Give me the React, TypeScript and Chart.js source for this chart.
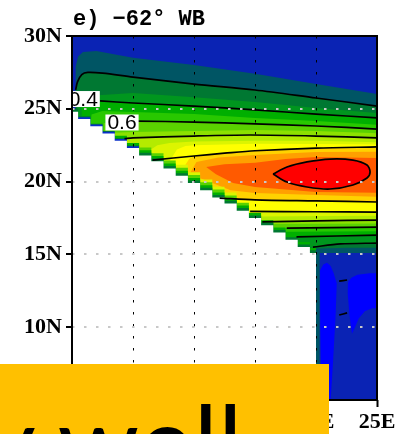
import React, { useEffect, useRef } from 'react';
import { Chart, registerables } from 'chart.js';

Chart.register(...registerables);

type Pt = [number, number];

// ---------- axes ----------
const lonRange = [0, 25];
const latRange = [5, 30];
const tickStep = 5;
const titleText = 'e) \u221262\u00b0 WB';

// ---------- coastline (land mask, stepped treads) ----------
const coastLon = [0, 0.5, 1.5, 2.5, 3.5, 4.5, 5.5, 6.5, 7.5, 8.5, 9.5, 10.5, 11.5, 12.5, 13.5, 14.5, 15.5, 16.5, 17.5, 18.5, 19.5];
const coastLat = [24.8, 24.3, 23.8, 23.3, 22.8, 22.3, 21.8, 21.4, 20.9, 20.4, 19.9, 19.4, 18.9, 18.5, 18.0, 17.5, 17.0, 16.5, 16.0, 15.5, 15.1];
const coastEndLon = 20;

// coastal fringe layers (offset above coast in degrees, lon range)
const fringeOffset = [0.75, 0.55, 0.35, 0.18, 0.12];
const fringeFrom = [8.5, 5.5, 3.5, 0, 0.5];
const fringeTo = [13.5, 14.5, 20, 20, 5.5];
const fringeColor = ['#DCF500', '#5AD200', '#00AF00', '#007832', '#0A30C8'];

// ---------- filled bands (lon, lat polygons), low -> high ----------
const frameBox: Pt[] = [[-1, 4], [26, 4], [26, 31], [-1, 31]];
const band1: Pt[] = [[0.3, 4.5], [0.3, 27.9], [0.5, 28.6], [0.9, 28.9], [2.0, 28.97], [5, 28.5], [10, 28.0], [15, 27.4], [20, 26.7], [25.5, 25.95], [25.5, 15.1], [20.3, 15.1], [20.3, 4.5]];
const band2: Pt[] = [[0.3, 15.4], [0.3, 26.2], [0.45, 26.85], [0.8, 27.35], [1.3, 27.5], [2.5, 27.45], [5, 27.18], [10, 26.7], [15, 26.29], [20, 25.74], [25.5, 25.15], [25.5, 15.45], [22.5, 15.45], [20.3, 15.4]];
const band3: Pt[] = [[0.4, 15.5], [0.4, 24.5], [0.5, 25.5], [1.5, 25.9], [5, 26.08], [10, 25.8], [15, 25.47], [20, 25.05], [25.5, 24.68], [25.5, 15.78], [22, 15.72], [19.75, 15.5]];
const band4: Pt[] = [[0.8, 16.2], [0.8, 25.4], [1.5, 25.6], [2.3, 25.54], [5, 25.4], [10, 25.19], [15, 24.92], [20, 24.64], [25.5, 24.34], [25.5, 16.33], [18.4, 16.2]];
const band5: Pt[] = [[1.5, 16.55], [1.5, 23.7], [1.6, 24.6], [2.5, 24.85], [5, 24.78], [10, 24.64], [15, 24.37], [20, 24.16], [25.5, 23.87], [25.5, 16.6], [18, 16.55]];
const band6: Pt[] = [[2.6, 16.81], [2.6, 23.2], [2.6, 24.0], [3.5, 24.18], [5.3, 24.16], [10, 24.09], [15, 23.96], [20, 23.82], [25.5, 23.59], [25.5, 16.88], [17.6, 16.81]];
const band7: Pt[] = [[3.3, 17.08], [3.3, 22.7], [3.4, 23.35], [5, 23.4], [10, 23.47], [15, 23.54], [20, 23.47], [25.5, 23.31], [25.5, 17.12], [16.5, 17.08]];
const band8: Pt[] = [[4.2, 17.23], [4.2, 22.3], [4.3, 22.95], [5, 23.0], [10, 23.13], [14.6, 23.2], [20, 23.13], [25.5, 22.98], [25.5, 17.36], [15.6, 17.23]];
const band9: Pt[] = [[5.9, 17.6], [5.9, 21.5], [6.0, 21.95], [7, 22.5], [8, 22.65], [10, 22.75], [15, 22.8], [20, 22.8], [25.5, 22.7], [25.5, 17.65], [15, 17.6]];
const band10: Pt[] = [[7.9, 17.95], [7.9, 20.6], [8.0, 21.4], [8.6, 22.2], [9.3, 22.45], [10, 22.5], [15, 22.6], [20, 22.58], [25.5, 22.55], [25.5, 17.91], [20, 17.93], [14.6, 17.95]];
const band11: Pt[] = [[9.0, 18.87], [9.0, 20.2], [9.1, 20.9], [9.6, 21.55], [10, 21.76], [12.5, 21.95], [15, 22.12], [20, 22.3], [25.5, 22.4], [25.5, 18.6], [20, 18.67], [15, 18.74], [12.1, 18.87]];
const band12: Pt[] = [[9.7, 20.6], [10.2, 21.35], [12, 21.65], [15, 21.83], [20, 22.03], [25.5, 22.05], [25.5, 18.94], [20, 19.08], [15, 19.22], [13, 19.4], [11.5, 19.9], [10.3, 20.3]];
const band13: Pt[] = [[11.0, 21.0], [12.5, 21.2], [15, 21.3], [17.5, 21.55], [20, 21.69], [25.5, 21.62], [25.5, 19.22], [20, 19.29], [15, 19.63], [13.2, 19.9], [11.8, 20.5]];
const core: Pt[] = [[16.48, 20.52], [17.62, 21.0], [19.26, 21.35], [21.15, 21.55], [23.03, 21.48], [24.18, 21.14], [24.43, 20.66], [24.18, 20.25], [23.03, 19.77], [21.15, 19.49], [19.26, 19.63], [17.62, 19.97], [16.48, 20.52]];
const patch1: Pt[] = [[20.33, 13.9], [20.6, 14.3], [20.9, 14.42], [21.2, 14.2], [21.45, 13.7], [21.7, 13.0], [21.6, 10.7], [21.4, 7.7], [21.2, 5], [20.45, 5], [20.35, 10]];
const patch2: Pt[] = [[22.62, 13.1], [22.9, 13.4], [23.4, 13.6], [24.4, 13.7], [25.5, 13.72], [25.5, 11.35], [24.6, 11.3], [24.0, 11.1], [23.5, 10.6], [23.2, 10.0], [22.95, 9.55], [22.75, 10.8], [22.6, 12.3]];

const bandPolys = [frameBox, band1, band2, band3, band4, band5, band6, band7, band8, band9, band10, band11, band12, band13, core, patch1, patch2];
const bandColors = ['#0A23B4', '#005564', '#007832', '#00961E', '#00AF00', '#28C800', '#5AD200', '#8CE100', '#B4EB00', '#DCF500', '#FFFF00', '#FFD200', '#FFA000', '#FF5A00', '#FF0000', '#0000FF', '#0000FF'];

// ---------- contour lines ----------
const lineA: Pt[] = [[0.3, 26.3], [0.45, 26.85], [0.8, 27.35], [1.3, 27.5], [2.5, 27.45], [5, 27.18], [10, 26.7], [15, 26.29], [20, 25.74], [25, 25.19]];
const lineB: Pt[] = [[2.3, 25.54], [5, 25.4], [10, 25.19], [15, 24.92], [20, 24.64], [25, 24.37]];
const lineC: Pt[] = [[5.3, 24.16], [10, 24.09], [15, 23.96], [20, 23.82], [25, 23.61]];
const lineD: Pt[] = [[4.3, 22.95], [5, 23.0], [10, 23.13], [14.6, 23.2], [20, 23.13], [25, 23.0]];
const lineE: Pt[] = [[6.6, 21.48], [10, 21.76], [12.5, 21.95], [15, 22.12], [20, 22.3], [25, 22.38]];
const lineF: Pt[] = [[12.1, 18.87], [15, 18.74], [20, 18.67], [25, 18.6]];
const lineG: Pt[] = [[14.6, 17.95], [20, 17.93], [25, 17.91]];
const lineH: Pt[] = [[15.6, 17.23], [20, 17.3], [25, 17.36]];
const lineI: Pt[] = [[17.6, 16.81], [25, 16.88]];
const lineJ: Pt[] = [[18.4, 16.2], [25, 16.33]];
const lineK: Pt[] = [[19.75, 15.5], [22, 15.72], [25, 15.78]];
const dash1: Pt[] = [[21.9, 13.17], [22.55, 13.24]];
const dash2: Pt[] = [[21.9, 10.84], [22.55, 10.98]];
const contourLines = [lineA, lineB, lineC, lineD, lineE, lineF, lineG, lineH, lineI, lineJ, lineK, core, dash1, dash2];

// ---------- contour labels ----------
const labelText = ['0.4', '0.6'];
const labelLon = [0.92, 4.1];
const labelLat = [25.67, 24.06];

const toXY = (pts: Pt[]) => pts.map(([x, y]) => ({ x, y }));

function buildDatasets() {
  const ds: any[] = [];
  bandPolys.forEach((p, i) => {
    ds.push({
      data: toXY(p), showLine: true, fill: 'shape', tension: 0,
      backgroundColor: bandColors[i], borderColor: bandColors[i], borderWidth: 0, pointRadius: 0,
    });
  });
  fringeOffset.forEach((d, j) => {
    const pts: Pt[] = [];
    let last = 0;
    coastLon.forEach((lon, k) => {
      if (lon >= fringeFrom[j] && lon < fringeTo[j]) {
        pts.push([lon, coastLat[k] + d]);
        last = coastLat[k] + d;
      }
    });
    pts.push([fringeTo[j], last]);
    ds.push({
      data: toXY(pts), showLine: true, stepped: true, fill: 'start',
      backgroundColor: fringeColor[j], borderColor: fringeColor[j], borderWidth: 0, pointRadius: 0,
    });
  });
  const land: Pt[] = coastLon.map((lon, k) => [lon, coastLat[k]] as Pt);
  land.push([coastEndLon, coastLat[coastLat.length - 1]]);
  land.push([coastEndLon, latRange[0]]);
  ds.push({
    data: toXY(land), showLine: true, stepped: true, fill: 'start',
    backgroundColor: '#FFFFFF', borderColor: '#FFFFFF', borderWidth: 0, pointRadius: 0,
  });
  contourLines.forEach((l) => {
    ds.push({
      data: toXY(l), showLine: true, fill: false, tension: 0.3,
      borderColor: '#000000', borderWidth: 1.7, pointRadius: 0,
    });
  });
  return ds.reverse();
}

const overlayPlugin = {
  id: 'overlay',
  afterDraw(chart: any) {
    const { ctx, chartArea, scales } = chart;
    const { left, top, right, bottom } = chartArea;
    ctx.save();
    ctx.beginPath();
    ctx.rect(left, top, right - left, bottom - top);
    ctx.clip();
    ctx.font = '21px "Liberation Sans", Arial, sans-serif';
    ctx.textAlign = 'center';
    ctx.textBaseline = 'middle';
    labelText.forEach((t, i) => {
      const x = scales.x.getPixelForValue(labelLon[i]);
      const y = scales.y.getPixelForValue(labelLat[i]);
      const w = ctx.measureText(t).width + 4;
      ctx.fillStyle = '#FFFFFF';
      ctx.fillRect(x - w / 2, y - 8, w, 16);
      ctx.fillStyle = '#000000';
      ctx.fillText(t, x, y + 1);
    });
    ctx.restore();

    ctx.save();
    ctx.strokeStyle = '#000000';
    ctx.lineWidth = 2;
    ctx.strokeRect(left, top, right - left, bottom - top);
    ctx.fillStyle = '#000000';
    ctx.font = 'bold 22px "Liberation Mono", monospace';
    ctx.textAlign = 'left';
    ctx.textBaseline = 'alphabetic';
    ctx.fillText(titleText, left + 1, top - 11);
    ctx.restore();
  },
};

function ChartBox() {
  const ref = useRef<HTMLCanvasElement | null>(null);
  useEffect(() => {
    if (!ref.current) return;
    const tickFont = { family: '"Liberation Serif", serif', size: 22, weight: 'bold' as const };
    const chart = new Chart(ref.current, {
      type: 'scatter',
      data: { datasets: buildDatasets() },
      options: {
        responsive: false,
        devicePixelRatio: 1,
        animation: false,
        events: [],
        layout: { padding: { left: 0, top: 36, right: 28, bottom: 0 } },
        plugins: { legend: { display: false }, tooltip: { enabled: false } },
        elements: { point: { radius: 0 } },
        scales: {
          x: {
            type: 'linear', min: lonRange[0], max: lonRange[1],
            ticks: {
              stepSize: tickStep, color: '#000', font: tickFont, padding: 2, maxRotation: 0,
              callback: (v: any) => (Number(v) === 0 ? '0' : `${v}E`),
            },
            grid: { z: 1, color: '#000000', lineWidth: 1, tickColor: '#000000', tickWidth: 2, tickLength: 7 },
            border: { display: false, dash: [2.5, 9.5] },
            afterFit: (s: any) => { s.height = 34; s.paddingLeft = 0; s.paddingRight = 0; },
          },
          y: {
            type: 'linear', min: latRange[0], max: latRange[1],
            ticks: {
              stepSize: tickStep, color: '#000', font: tickFont, padding: 4,
              callback: (v: any) => `${v}N`,
            },
            grid: { z: 1, color: '#C8C8C8', lineWidth: 2, tickColor: '#000000', tickWidth: 2, tickLength: 6 },
            border: { display: false, dash: [2.5, 9.5] },
            afterFit: (s: any) => { s.width = 72; s.paddingTop = 0; s.paddingBottom = 0; },
          },
        },
      } as any,
      plugins: [overlayPlugin],
    });
    return () => chart.destroy();
  }, []);
  return <canvas ref={ref} width={405} height={434} style={{ position: 'absolute', left: 0, top: 0, width: 405, height: 434 }} />;
}

export default function App() {
  return (
    <div style={{ position: 'fixed', left: 0, top: 0, width: 405, height: 434, overflow: 'hidden', background: '#fff' }}>
      <ChartBox />
      <div style={{ position: 'absolute', left: 0, top: 364, width: 329, height: 70, background: '#FFC000', overflow: 'hidden' }}>
        <div style={{ position: 'absolute', left: -18, top: 25, fontFamily: 'Lato, "Open Sans", sans-serif', fontSize: 104, lineHeight: 1, whiteSpace: 'nowrap', color: '#000' }}>
          y well
        </div>
      </div>
    </div>
  );
}
